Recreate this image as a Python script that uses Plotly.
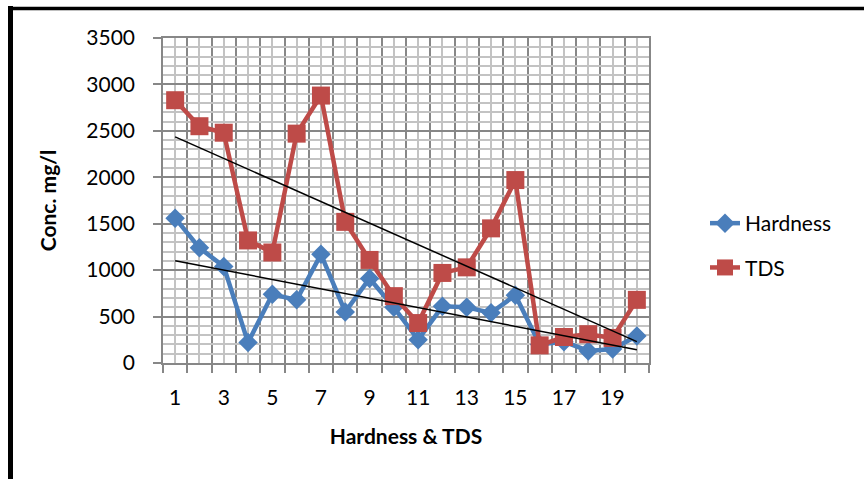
import numpy as np
import plotly.graph_objects as go

# Sample numbers 1..20 and measured concentrations (mg/l)
samples = list(range(1, 21))
hardness = [1560, 1240, 1040, 220, 740, 680, 1170, 550, 910, 600,
            250, 610, 600, 540, 730, 200, 230, 130, 150, 290]
tds = [2830, 2550, 2480, 1320, 1190, 2470, 2880, 1520, 1110, 720,
       430, 970, 1030, 1450, 1970, 190, 280, 310, 270, 680]
x_tick_vals = [1, 3, 5, 7, 9, 11, 13, 15, 17, 19]
y_tick_vals = [0, 500, 1000, 1500, 2000, 2500, 3000, 3500]

FONT = "Lato"
BLUE = "#4A7EBB"
RED = "#BE4B48"
GRID_MAJOR = "#878787"
GRID_MINOR = "#C3C3C3"

W, H = 864, 479
ML, MR, MT, MB = 163, 215, 38, 116
PW, PH = W - ML - MR, H - MT - MB


def px_to_paper(px, py):
    return (px - ML) / PW, (H - MB - py) / PH


fig = go.Figure()

fig.add_trace(go.Scatter(
    x=samples, y=hardness, name="Hardness", mode="lines+markers",
    line=dict(color=BLUE, width=4.5),
    marker=dict(symbol="diamond", size=15, color=BLUE),
    legendgroup="h",
))
fig.add_trace(go.Scatter(
    x=samples, y=tds, name="TDS", mode="lines+markers",
    line=dict(color=RED, width=4.5),
    marker=dict(symbol="square", size=18, color=RED),
    legendgroup="t",
))

# Linear trend lines for each series
xs = np.array(samples, dtype=float)
for series in (tds, hardness):
    slope, intercept = np.polyfit(xs, np.array(series, dtype=float), 1)
    ends = np.array([xs[0], xs[-1]])
    fig.add_trace(go.Scatter(
        x=ends, y=slope * ends + intercept, mode="lines",
        line=dict(color="black", width=1.5),
        showlegend=False, hoverinfo="skip",
    ))

# Outer frame (left and top edges)
x0, y0 = px_to_paper(10.5, 6)
x1, y1 = px_to_paper(10.5, 490)
fig.add_shape(type="line", xref="paper", yref="paper",
              x0=x0, y0=y0, x1=x1, y1=y1,
              line=dict(color="black", width=5))
x0, y0 = px_to_paper(8, 8.5)
x1, y1 = px_to_paper(880, 8.5)
fig.add_shape(type="line", xref="paper", yref="paper",
              x0=x0, y0=y0, x1=x1, y1=y1,
              line=dict(color="black", width=3.5))

lx, ly = px_to_paper(705, 203)

fig.update_layout(
    width=W, height=H,
    margin=dict(l=ML, r=MR, t=MT, b=MB),
    paper_bgcolor="white", plot_bgcolor="white",
    font=dict(family=FONT, size=21, color="black"),
    showlegend=True,
    legend=dict(
        x=lx, y=ly, xanchor="left", yanchor="top",
        font=dict(family=FONT, size=21, color="black"),
        tracegroupgap=14, traceorder="grouped",
        bgcolor="rgba(0,0,0,0)",
    ),
    xaxis=dict(
        range=[0.5, 20.5],
        tickmode="array", tickvals=samples,
        ticktext=[str(s) if s in x_tick_vals else "" for s in samples],
        ticks="", showgrid=True, gridcolor=GRID_MINOR, gridwidth=1.5,
        minor=dict(
            tickmode="array", tickvals=[s - 0.5 for s in samples] + [20.5],
            ticks="outside", ticklen=8, tickwidth=1.5, tickcolor=GRID_MAJOR,
            showgrid=True, gridcolor=GRID_MAJOR, gridwidth=1.5,
        ),
        showline=True, mirror=True, linecolor=GRID_MAJOR, linewidth=1.5,
        zeroline=False, ticklabelstandoff=15,
        title=dict(text="<b>Hardness & TDS</b>", font=dict(size=21), standoff=21),
    ),
    yaxis=dict(
        range=[0, 3500],
        tickmode="array", tickvals=y_tick_vals,
        ticks="outside", ticklen=8, tickwidth=1.5, tickcolor=GRID_MAJOR,
        showgrid=True, gridcolor=GRID_MAJOR, gridwidth=1.5,
        minor=dict(dtick=100, ticks="", showgrid=True,
                   gridcolor=GRID_MINOR, gridwidth=1.5),
        showline=True, mirror=True, linecolor=GRID_MAJOR, linewidth=1.5,
        zeroline=False, ticklabelstandoff=14,
        title=dict(text="<b>Conc. mg/l</b>", font=dict(size=21), standoff=24),
    ),
)

fig.write_html("out.html")
